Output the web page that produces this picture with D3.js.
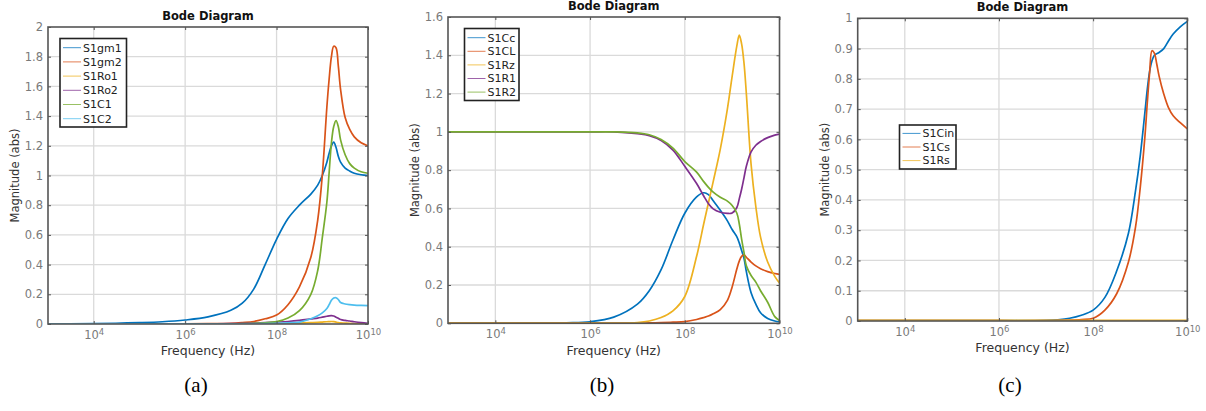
<!DOCTYPE html>
<html>
<head>
<meta charset="utf-8">
<script src="https://cdn.jsdelivr.net/npm/d3@7"></script>
<style>
  html, body { margin: 0; padding: 0; background: #fff; }
  svg { display: block; }
</style>
</head>
<body>
<svg id="chart" width="1206" height="411"></svg>
<script>
// ---- frequency grids (log10 of Hz) ----
const freqExpA = [3, 4, 5, 5.5, 6, 6.5, 7, 7.25, 7.5, 7.75, 8, 8.25, 8.5, 8.75, 8.9, 9, 9.1, 9.15, 9.2, 9.25, 9.3, 9.35, 9.4, 9.5, 9.6, 9.7, 9.85, 10];
const freqExpB = [3, 4, 5, 5.5, 6, 6.5, 7, 7.25, 7.5, 7.75, 8, 8.25, 8.4, 8.5, 8.6, 8.75, 8.9, 9, 9.1, 9.15, 9.2, 9.25, 9.3, 9.4, 9.5, 9.6, 9.75, 9.9, 10];
const freqExpC = [3, 4, 5, 6, 7, 7.25, 7.5, 7.75, 8, 8.25, 8.5, 8.75, 8.9, 9, 9.1, 9.15, 9.2, 9.25, 9.3, 9.35, 9.4, 9.5, 9.6, 9.7, 9.85, 10];

// ---- panel (a) magnitudes ----
const magS1gm1 = [0.001, 0.002, 0.009, 0.015, 0.027, 0.048, 0.092, 0.14, 0.235, 0.40, 0.57, 0.71, 0.80, 0.875, 0.935, 1.0, 1.09, 1.15, 1.20, 1.225, 1.19, 1.13, 1.09, 1.05, 1.03, 1.015, 1.005, 1.0];
const magS1gm2 = [0.001, 0.001, 0.001, 0.001, 0.001, 0.002, 0.005, 0.01, 0.017, 0.035, 0.06, 0.13, 0.25, 0.45, 0.70, 1.0, 1.46, 1.65, 1.80, 1.87, 1.86, 1.74, 1.58, 1.39, 1.31, 1.26, 1.22, 1.20];
const magS1Ro1 = [0.001, 0.001, 0.001, 0.001, 0.001, 0.001, 0.001, 0.001, 0.001, 0.001, 0.001, 0.003, 0.006, 0.009, 0.011, 0.013, 0.015, 0.016, 0.017, 0.016, 0.013, 0.01, 0.008, 0.006, 0.004, 0.003, 0.002, 0.001];
const magS1Ro2 = [0.001, 0.001, 0.001, 0.001, 0.001, 0.001, 0.002, 0.004, 0.006, 0.01, 0.013, 0.017, 0.024, 0.034, 0.04, 0.046, 0.052, 0.055, 0.056, 0.054, 0.046, 0.038, 0.03, 0.024, 0.02, 0.015, 0.009, 0.005];
const magS1C1  = [0.001, 0.001, 0.001, 0.001, 0.001, 0.001, 0.001, 0.002, 0.004, 0.008, 0.016, 0.04, 0.09, 0.20, 0.36, 0.58, 0.82, 1.02, 1.22, 1.33, 1.37, 1.33, 1.24, 1.14, 1.08, 1.05, 1.025, 1.015];
const magS1C2  = [0.001, 0.001, 0.001, 0.001, 0.001, 0.001, 0.001, 0.001, 0.001, 0.003, 0.005, 0.008, 0.013, 0.035, 0.055, 0.075, 0.105, 0.13, 0.16, 0.175, 0.177, 0.165, 0.145, 0.135, 0.13, 0.127, 0.125, 0.124];

// ---- panel (b) magnitudes ----
const magS1Cc = [0, 0, 0.001, 0.003, 0.008, 0.032, 0.10, 0.17, 0.28, 0.435, 0.575, 0.66, 0.682, 0.672, 0.64, 0.59, 0.535, 0.49, 0.452, 0.42, 0.38, 0.34, 0.27, 0.16, 0.10, 0.055, 0.025, 0.012, 0.008];
const magS1CL = [0.001, 0.001, 0.001, 0.001, 0.001, 0.001, 0.001, 0.002, 0.004, 0.006, 0.009, 0.02, 0.03, 0.038, 0.05, 0.072, 0.12, 0.19, 0.285, 0.325, 0.35, 0.357, 0.345, 0.32, 0.30, 0.285, 0.27, 0.26, 0.256];
const magS1Rz = [0.001, 0.001, 0.001, 0.001, 0.001, 0.001, 0.004, 0.012, 0.03, 0.065, 0.14, 0.35, 0.52, 0.63, 0.74, 0.91, 1.12, 1.29, 1.45, 1.505, 1.46, 1.36, 1.20, 0.83, 0.61, 0.45, 0.32, 0.245, 0.21];
const magS1R1 = [1, 1, 1, 1, 1, 1, 0.99, 0.98, 0.955, 0.905, 0.82, 0.73, 0.665, 0.625, 0.598, 0.58, 0.574, 0.576, 0.605, 0.65, 0.70, 0.76, 0.82, 0.895, 0.93, 0.95, 0.97, 0.983, 0.988];
const magS1R2 = [1, 1, 1, 1, 1, 1, 0.995, 0.985, 0.96, 0.915, 0.845, 0.79, 0.74, 0.71, 0.685, 0.658, 0.638, 0.615, 0.575, 0.52, 0.44, 0.37, 0.30, 0.25, 0.215, 0.17, 0.11, 0.035, 0.015];

// ---- panel (c) magnitudes ----
const magS1Cin = [0.001, 0.001, 0.001, 0.001, 0.002, 0.004, 0.009, 0.019, 0.036, 0.078, 0.165, 0.29, 0.43, 0.545, 0.69, 0.765, 0.825, 0.86, 0.878, 0.883, 0.887, 0.90, 0.925, 0.948, 0.972, 0.99];
const magS1Cs  = [0.001, 0.001, 0.001, 0.001, 0.001, 0.002, 0.003, 0.005, 0.009, 0.036, 0.09, 0.195, 0.31, 0.44, 0.61, 0.72, 0.82, 0.893, 0.885, 0.85, 0.81, 0.75, 0.705, 0.678, 0.655, 0.635];
const magS1Rs  = [0.002, 0.002, 0.002, 0.002, 0.002, 0.002, 0.002, 0.002, 0.002, 0.002, 0.002, 0.002, 0.002, 0.002, 0.002, 0.002, 0.002, 0.002, 0.002, 0.002, 0.002, 0.002, 0.002, 0.002, 0.002, 0.002];

// ---- tick labels ----
const xTickExps = [4, 6, 8, 10];
const yTicksA = [0, 0.2, 0.4, 0.6, 0.8, 1, 1.2, 1.4, 1.6, 1.8, 2];
const yTicksB = [0, 0.2, 0.4, 0.6, 0.8, 1, 1.2, 1.4, 1.6];
const yTicksC = [0, 0.1, 0.2, 0.3, 0.4, 0.5, 0.6, 0.7, 0.8, 0.9, 1];
const captions = ["(a)", "(b)", "(c)"];

// MATLAB default line colour order
const C_BLUE = "#0072BD", C_RED = "#D95319", C_YEL = "#EDB120",
      C_PUR = "#7E2F8E", C_GRN = "#77AC30", C_CYAN = "#4DBEEE";

const panels = [
  {
    left: 48, right: 368, top: 27, bottom: 324, yMax: 2, yTicks: yTicksA,
    titleY: 20, ylabelX: 19, xlabelY: 355, caption: captions[0], captionX: 196,
    legend: { x: 60, y: 38.5, w: 66.5, h: 88.5, row: 14.2, first: 47.7 },
    freq: freqExpA,
    series: [
      { name: "S1gm1", color: C_BLUE, values: magS1gm1 },
      { name: "S1gm2", color: C_RED,  values: magS1gm2 },
      { name: "S1Ro1", color: C_YEL,  values: magS1Ro1 },
      { name: "S1Ro2", color: C_PUR,  values: magS1Ro2 },
      { name: "S1C1",  color: C_GRN,  values: magS1C1 },
      { name: "S1C2",  color: C_CYAN, values: magS1C2 }
    ]
  },
  {
    left: 448, right: 779.5, top: 17, bottom: 323.3, yMax: 1.6, yTicks: yTicksB,
    titleY: 10, ylabelX: 419, xlabelY: 355, caption: captions[1], captionX: 602,
    legend: { x: 464.5, y: 28.5, w: 54.5, h: 72, row: 13.6, first: 37.7 },
    freq: freqExpB,
    series: [
      { name: "S1Cc", color: C_BLUE, values: magS1Cc },
      { name: "S1CL", color: C_RED,  values: magS1CL },
      { name: "S1Rz", color: C_YEL,  values: magS1Rz },
      { name: "S1R1", color: C_PUR,  values: magS1R1 },
      { name: "S1R2", color: C_GRN,  values: magS1R2 }
    ]
  },
  {
    left: 857.7, right: 1187.3, top: 18.3, bottom: 321, yMax: 1, yTicks: yTicksC,
    titleY: 11, ylabelX: 829, xlabelY: 352, caption: captions[2], captionX: 1010,
    legend: { x: 899.5, y: 125, w: 56.5, h: 44, row: 13.6, first: 133.4 },
    freq: freqExpC,
    series: [
      { name: "S1Cin", color: C_BLUE, values: magS1Cin },
      { name: "S1Cs",  color: C_RED,  values: magS1Cs },
      { name: "S1Rs",  color: C_YEL,  values: magS1Rs }
    ]
  }
];

const svg = d3.select("#chart");
const FONT = "'DejaVu Sans', sans-serif";

panels.forEach(p => {
  const g = svg.append("g");
  const x = d3.scaleLog().domain([1e3, 1e10]).range([p.left, p.right]);
  const y = d3.scaleLinear().domain([0, p.yMax]).range([p.bottom, p.top]);
  const xTickVals = xTickExps.map(e => Math.pow(10, e));
  const w = p.right - p.left, h = p.bottom - p.top;

  // grid
  g.append("g").selectAll("line").data(xTickVals.filter(v => v < 1e10)).join("line")
    .attr("x1", d => x(d)).attr("x2", d => x(d)).attr("y1", p.top).attr("y2", p.bottom)
    .attr("stroke", "#dadada").attr("stroke-width", 1.3);
  g.append("g").selectAll("line").data(p.yTicks.filter(v => v > 0 && v < p.yMax)).join("line")
    .attr("x1", p.left).attr("x2", p.right).attr("y1", d => y(d)).attr("y2", d => y(d))
    .attr("stroke", "#dadada").attr("stroke-width", 1.3);

  // curves
  const clipId = "clip" + Math.round(p.left);
  svg.append("clipPath").attr("id", clipId).append("rect")
    .attr("x", p.left).attr("y", p.top).attr("width", w).attr("height", h);
  const line = d3.line()
    .x(d => x(Math.pow(10, d[0])))
    .y(d => y(Math.max(0, d[1])))
    .curve(d3.curveCatmullRom.alpha(0.5));
  const curves = g.append("g").attr("clip-path", `url(#${clipId})`);
  p.series.forEach(s => {
    const pts = p.freq.map((f, i) => [f, s.values[i]]);
    curves.append("path").attr("d", line(pts)).attr("fill", "none")
      .attr("stroke", s.color).attr("stroke-width", 1.7).attr("stroke-linejoin", "round");
  });

  // axes: labels on left/bottom, inward ticks on all four sides
  const axisColor = "#555";
  const yAxis = g.append("g").attr("transform", `translate(${p.left},0)`)
    .call(d3.axisLeft(y).tickValues(p.yTicks).tickSizeInner(-3).tickSizeOuter(0).tickPadding(5)
      .tickFormat(d => String(+d.toFixed(1))));
  const yAxisR = g.append("g").attr("transform", `translate(${p.right},0)`)
    .call(d3.axisRight(y).tickValues(p.yTicks).tickSizeInner(-3).tickSizeOuter(0).tickFormat(""));
  const xAxis = g.append("g").attr("transform", `translate(0,${p.bottom})`)
    .call(d3.axisBottom(x).tickValues(xTickVals).tickSizeInner(-3).tickSizeOuter(0).tickPadding(6)
      .tickFormat(() => ""));
  const xAxisT = g.append("g").attr("transform", `translate(0,${p.top})`)
    .call(d3.axisTop(x).tickValues(xTickVals).tickSizeInner(-3).tickSizeOuter(0).tickFormat(""));
  [yAxis, yAxisR, xAxis, xAxisT].forEach(a => {
    a.select(".domain").remove();
    a.selectAll(".tick line").attr("stroke", axisColor).attr("stroke-width", 1);
  });
  yAxis.selectAll(".tick text").attr("fill", "#7a7a7a").attr("font-family", FONT)
    .attr("font-size", 11.5);

  // power-of-ten labels
  xAxis.selectAll(".tick").each(function(d, i) {
    const t = d3.select(this).select("text")
      .attr("fill", "#7a7a7a").attr("font-family", FONT).attr("font-size", 11.5)
      .attr("text-anchor", "middle").attr("dy", "0.8em").attr("x", 0);
    t.append("tspan").text("10");
    t.append("tspan").attr("dy", "-0.55em").attr("font-size", 8.5).text(xTickExps[i]);
  });

  // axes box
  g.append("rect").attr("x", p.left).attr("y", p.top).attr("width", w).attr("height", h)
    .attr("fill", "none").attr("stroke", axisColor).attr("stroke-width", 1.6);

  // titles and labels
  const cx = (p.left + p.right) / 2;
  g.append("text").attr("x", cx).attr("y", p.titleY).attr("text-anchor", "middle")
    .attr("font-family", FONT).attr("font-size", 11.5).attr("font-weight", "bold")
    .attr("fill", "#111").text("Bode Diagram");
  g.append("text").attr("x", cx).attr("y", p.xlabelY).attr("text-anchor", "middle")
    .attr("font-family", FONT).attr("font-size", 12.5).attr("fill", "#333")
    .text("Frequency  (Hz)");
  g.append("text")
    .attr("transform", `translate(${p.ylabelX},${(p.top + p.bottom) / 2}) rotate(-90)`)
    .attr("text-anchor", "middle").attr("font-family", FONT).attr("font-size", 11.5)
    .attr("fill", "#333").text("Magnitude (abs)");

  // legend
  const L = p.legend;
  g.append("rect").attr("x", L.x).attr("y", L.y).attr("width", L.w).attr("height", L.h)
    .attr("fill", "#fff").attr("stroke", "#222").attr("stroke-width", 1.6);
  p.series.forEach((s, i) => {
    const ly = L.first + i * L.row;
    g.append("line").attr("x1", L.x + 3).attr("x2", L.x + 21).attr("y1", ly).attr("y2", ly)
      .attr("stroke", s.color).attr("stroke-width", 1).attr("stroke-opacity", 0.75);
    g.append("text").attr("x", L.x + 23).attr("y", ly).attr("dy", "0.35em")
      .attr("font-family", FONT).attr("font-size", 11).attr("fill", "#222").text(s.name);
  });

  // caption
  svg.append("text").attr("x", p.captionX).attr("y", 392).attr("text-anchor", "middle")
    .attr("font-family", "'Liberation Serif', 'Times New Roman', serif").attr("font-size", 21)
    .attr("fill", "#000").text(p.caption);
});
</script>
</body>
</html>
